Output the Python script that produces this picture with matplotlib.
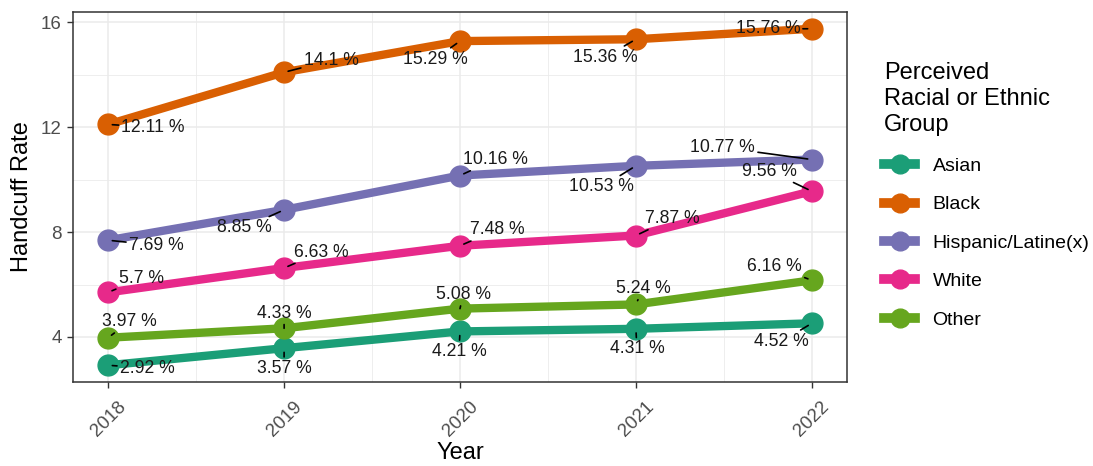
import matplotlib
matplotlib.use("Agg")
import matplotlib.pyplot as plt
from matplotlib.lines import Line2D
from matplotlib.ticker import FixedLocator
from matplotlib.transforms import ScaledTranslation

plt.rcParams['font.family'] = ['Liberation Sans', 'DejaVu Sans']

years = [2018, 2019, 2020, 2021, 2022]
groups = ["Asian", "Black", "Hispanic/Latine(x)", "White", "Other"]
asian = [2.92, 3.57, 4.21, 4.31, 4.52]
black = [12.11, 14.1, 15.29, 15.36, 15.76]
hispanic = [7.69, 8.85, 10.16, 10.53, 10.77]
white = [5.7, 6.63, 7.48, 7.87, 9.56]
other = [3.97, 4.33, 5.08, 5.24, 6.16]
series = [asian, black, hispanic, white, other]
colors = ["#1B9E77", "#D95F02", "#7570B3", "#E7298A", "#66A61E"]

# label offsets in pixels (dx right, dy up) — repel-like placement
offsets = {
    "Asian": [(39, -3), (0, -20), (-1, -20), (1, -20), (-30, -18)],
    "Black": [(45, -3), (47, 12), (-25, -18), (-31, -18), (-44, 0)],
    "Hispanic/Latine(x)": [(48, -5), (-40, -18), (35, 16), (-34, -21), (-89, 12)],
    "White": [(33, 14), (37, 16), (37, 16), (36, 17), (-42, 20)],
    "Other": [(21, 16), (0, 15), (3, 14), (7, 16), (-37, 14)],
}

fig = plt.figure(figsize=(10.93, 4.66), dpi=100)
ax = fig.add_axes([73/1093, 1-382/466, (847-73)/1093, (382-12)/466])

ax.set_xlim(2017.8, 2022.2)
ax.set_ylim(2.28, 16.40)
ax.set_xticks(years)
ax.set_yticks([4, 8, 12, 16])
ax.xaxis.set_minor_locator(FixedLocator([2018.5, 2019.5, 2020.5, 2021.5]))
ax.yaxis.set_minor_locator(FixedLocator([6, 10, 14]))
ax.grid(which='major', color='#EBEBEB', linewidth=1.1, zorder=0)
ax.grid(which='minor', color='#EBEBEB', linewidth=0.6, zorder=0)
ax.set_axisbelow(True)
for s in ax.spines.values():
    s.set_color('#333333')
    s.set_linewidth(1.1)
ax.tick_params(which='major', length=4.5, width=1, color='#333333', labelsize=13.5, labelcolor='#4D4D4D')
ax.tick_params(which='minor', length=0)
ax.set_xticklabels([str(y) for y in years], rotation=45, ha='right', rotation_mode='anchor')
shift = ScaledTranslation(6.5/72, -3.6/72, fig.dpi_scale_trans)
for lab in ax.get_xticklabels():
    lab.set_transform(lab.get_transform() + shift)

for name, vals, col in zip(groups, series, colors):
    ax.plot(years, vals, color=col, linewidth=6, marker='o', markersize=15,
            solid_capstyle='round', zorder=3)

for name, vals in zip(groups, series):
    for yr, v, (dx, dy) in zip(years, vals, offsets[name]):
        ax.annotate(f"{v:g} %", xy=(yr, v), xytext=(dx, dy), textcoords='offset pixels',
                    ha='center', va='center', fontsize=12.7, color='#1a1a1a', zorder=5,
                    arrowprops=dict(arrowstyle='-', color='black', lw=1.2,
                                    shrinkA=0, shrinkB=3))

ax.set_xlabel("Year", fontsize=17)
ax.xaxis.set_label_coords(0.5, -0.163)
ax.set_ylabel("Handcuff Rate", fontsize=17, labelpad=6)

handles = [Line2D([0], [0], color=c, linewidth=7, marker='o', markersize=13.5) for c in colors]
leg = fig.legend(handles, groups, loc='upper left', bbox_to_anchor=(884/1093, 1-62/466),
                 frameon=False, fontsize=14, title="Perceived\nRacial or Ethnic\nGroup",
                 title_fontsize=17, alignment='left', handlelength=1.6, labelspacing=1.07,
                 handletextpad=0.9, borderaxespad=0, borderpad=0)
leg.get_title().set_linespacing(1.25)

fig.savefig("out.png", dpi=100)
